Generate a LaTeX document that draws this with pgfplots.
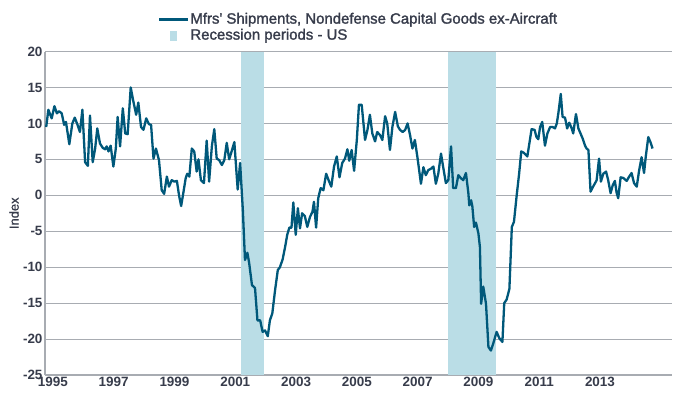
\documentclass[border=0pt]{standalone}
\usepackage{pgfplots}
\pgfplotsset{compat=1.18}
\usepackage{pgfplotstable}
\usepackage{fontspec}
\setmainfont{Liberation Sans}
\newfontfamily\semibold[FakeBold=1.6]{Liberation Sans}
\newfontfamily\medium[FakeBold=0.8]{Liberation Sans}
\definecolor{lineblue}{RGB}{0,88,122}
\definecolor{recfill}{RGB}{186,221,230}
\definecolor{gridgray}{RGB}{168,172,178}
\definecolor{txt}{RGB}{55,60,75}

\pgfplotstableread{
year val
1994.78 9.5
1994.85 11.9
1994.96 10.7
1995.05 12.4
1995.13 11.4
1995.20 11.7
1995.29 11.4
1995.37 9.8
1995.43 10.2
1995.54 7.1
1995.64 10.0
1995.72 10.8
1995.81 9.8
1995.89 8.8
1995.97 11.9
1996.06 4.6
1996.15 4.1
1996.22 11.1
1996.31 4.6
1996.39 6.5
1996.46 9.3
1996.55 7.2
1996.64 6.6
1996.72 6.4
1996.77 6.8
1996.83 6.1
1996.90 6.9
1996.99 4.0
1997.07 6.5
1997.13 10.9
1997.21 6.8
1997.30 12.1
1997.38 8.6
1997.46 8.5
1997.56 15.0
1997.65 13.0
1997.74 11.2
1997.81 12.9
1997.90 9.5
1997.98 9.1
1998.07 10.7
1998.16 9.9
1998.23 9.8
1998.31 5.1
1998.39 6.5
1998.49 4.9
1998.58 0.7
1998.66 0.2
1998.75 2.6
1998.82 1.2
1998.91 2.1
1999.00 1.9
1999.08 2.0
1999.15 0.0
1999.22 -1.5
1999.29 0.3
1999.37 2.4
1999.42 3.0
1999.49 2.6
1999.57 6.5
1999.65 6.1
1999.73 3.3
1999.79 5.0
1999.87 2.1
1999.97 1.7
2000.06 7.6
2000.14 1.9
2000.23 6.8
2000.31 9.2
2000.39 5.1
2000.47 4.9
2000.56 4.2
2000.64 4.9
2000.72 7.3
2000.80 5.0
2000.88 6.1
2000.97 7.4
2001.08 0.8
2001.16 4.5
2001.25 -2.1
2001.32 -9.0
2001.40 -8.0
2001.46 -9.5
2001.55 -12.5
2001.65 -12.9
2001.73 -17.4
2001.82 -17.4
2001.90 -19.0
2001.98 -18.8
2002.07 -19.6
2002.14 -17.4
2002.22 -16.4
2002.31 -13.2
2002.40 -10.4
2002.47 -10.0
2002.56 -8.9
2002.64 -7.2
2002.71 -5.5
2002.78 -4.5
2002.85 -4.5
2002.91 -1.0
2002.99 -5.5
2003.06 -1.8
2003.13 -4.6
2003.20 -2.5
2003.29 -2.9
2003.37 -4.4
2003.46 -3.0
2003.54 -2.3
2003.59 -0.9
2003.66 -4.5
2003.73 -0.4
2003.81 1.0
2003.90 0.7
2003.99 3.0
2004.08 2.0
2004.16 1.2
2004.25 4.0
2004.34 5.4
2004.43 2.5
2004.52 4.5
2004.61 5.1
2004.69 6.4
2004.75 4.8
2004.83 6.3
2004.91 3.4
2005.00 7.7
2005.07 12.6
2005.16 12.6
2005.27 7.7
2005.35 9.1
2005.43 11.2
2005.51 8.6
2005.60 7.5
2005.67 8.8
2005.76 8.4
2005.84 7.7
2005.93 11.0
2006.00 10.0
2006.09 6.3
2006.17 9.5
2006.26 11.6
2006.35 9.6
2006.42 9.1
2006.51 8.8
2006.59 9.1
2006.67 10.0
2006.75 8.4
2006.83 6.5
2006.91 7.7
2007.00 5.1
2007.11 1.6
2007.19 3.9
2007.27 2.8
2007.35 3.5
2007.44 3.7
2007.52 4.0
2007.60 1.6
2007.68 3.0
2007.77 5.8
2007.83 4.2
2007.93 1.7
2008.01 2.1
2008.10 6.8
2008.17 1.0
2008.26 1.0
2008.34 2.8
2008.42 2.4
2008.50 2.1
2008.59 3.1
2008.67 0.3
2008.70 -1.4
2008.76 -0.7
2008.80 -1.5
2008.86 -4.4
2008.92 -3.8
2009.00 -5.3
2009.05 -7.2
2009.09 -15.1
2009.16 -12.7
2009.25 -15.1
2009.33 -21.1
2009.41 -21.6
2009.49 -20.6
2009.60 -19.0
2009.69 -19.9
2009.79 -20.4
2009.85 -15.0
2009.93 -14.5
2010.02 -13.0
2010.10 -4.4
2010.17 -3.7
2010.26 0.0
2010.34 3.0
2010.41 6.1
2010.50 5.9
2010.61 5.4
2010.75 9.2
2010.85 9.1
2010.91 8.1
2010.97 7.8
2011.03 9.5
2011.10 10.2
2011.19 6.9
2011.27 8.6
2011.36 9.5
2011.44 9.5
2011.52 9.3
2011.58 10.0
2011.63 11.4
2011.71 14.1
2011.77 10.9
2011.85 10.8
2011.92 9.3
2011.99 10.1
2012.07 9.3
2012.12 8.6
2012.21 11.3
2012.29 9.3
2012.34 8.8
2012.43 7.9
2012.51 6.9
2012.56 6.5
2012.62 6.3
2012.69 0.5
2012.76 1.1
2012.84 1.7
2012.89 2.1
2012.97 5.1
2013.03 1.9
2013.11 3.0
2013.20 3.3
2013.27 2.1
2013.35 0.3
2013.42 1.4
2013.49 2.0
2013.55 0.3
2013.60 -0.4
2013.68 2.5
2013.77 2.4
2013.88 2.0
2013.96 2.6
2014.04 3.1
2014.12 1.7
2014.21 1.2
2014.29 3.5
2014.37 5.3
2014.45 3.1
2014.51 5.5
2014.59 8.1
2014.66 7.4
2014.73 6.5
}\shipments

\begin{document}
\begin{tikzpicture}
\useasboundingbox (-45bp,-23bp) rectangle (630bp,375bp);
\begin{axis}[
  scale only axis,
  width=627bp, height=323.5bp,
  xmin=1994.74, xmax=2015.37,
  ymin=-25, ymax=20,
  axis x line*=bottom, axis y line*=left,
  x axis line style={-, gridgray, line width=1.1bp},
  y axis line style={-, gridgray, line width=1.1bp},
  xtick={1995,1997,...,2013},
  xticklabels={1995,1997,1999,2001,2003,2005,2007,2009,2011,2013},
  ytick={-25,-20,...,20},
  major tick length=0pt,
  ymajorgrids,
  grid style={gridgray, line width=1.1bp},
  /pgf/number format/assume math mode=true,
  tick label style={font=\bfseries\fontsize{13.5}{14}\selectfont, text=txt},
  yticklabel style={xshift=1bp},
  xticklabel style={yshift=1bp},
  ylabel={Index},
  ylabel style={font=\medium\fontsize{13}{14}\selectfont, text=txt, at={(axis description cs:-0.0494,0.5)}, anchor=center},
  legend style={at={(axis description cs:0.175,1.13)}, anchor=north west, draw=none, fill=none,
    font=\semibold\fontsize{15}{16}\selectfont, text=txt, cells={anchor=west}, row sep=0pt,
    nodes={inner sep=1bp, text height=11bp, text depth=3bp}},
  legend cell align=left,
]
\addplot [fill=recfill, draw=none, forget plot] coordinates {(2001.19,-25) (2001.19,20) (2001.95,20) (2001.95,-25)} -- cycle;
\addplot [fill=recfill, draw=none, forget plot] coordinates {(2007.99,-25) (2007.99,20) (2009.57,20) (2009.57,-25)} -- cycle;
\addplot [lineblue, line width=2.3bp, line join=round, mark=none,
  legend image code/.code={\draw[lineblue, line width=2.5bp] (0bp,0bp) -- (29bp,0bp);}]
  table [x=year, y=val] {\shipments};
\addlegendentry{Mfrs' Shipments, Nondefense Capital Goods ex-Aircraft}
\addlegendimage{legend image code/.code={\fill[recfill] (11.5bp,-4.5bp) rectangle (17.5bp,4.5bp);}}
\addlegendentry{Recession periods - US}
\end{axis}
\end{tikzpicture}
\end{document}
